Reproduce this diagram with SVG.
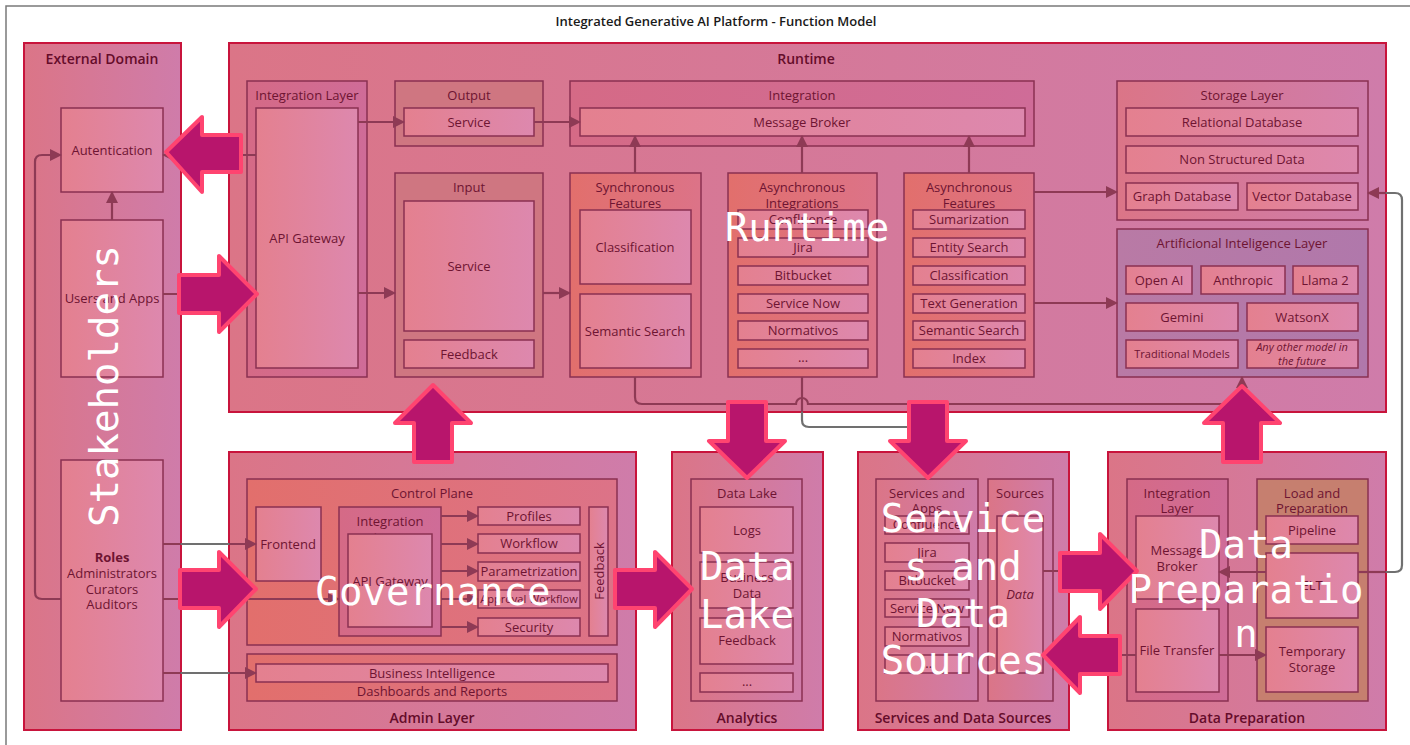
<svg xmlns="http://www.w3.org/2000/svg" width="1410" height="745" viewBox="0 0 1410 745">
  <defs>
    <linearGradient id="gCont" x1="0" x2="1" y1="0" y2="0">
      <stop offset="0" stop-color="#db7587"/>
      <stop offset="1" stop-color="#cf7caa"/>
    </linearGradient>
    <linearGradient id="gItem" x1="0" x2="1" y1="0" y2="0">
      <stop offset="0" stop-color="#e4808f"/>
      <stop offset="1" stop-color="#dd88ae"/>
    </linearGradient>
    <linearGradient id="gSalmon" x1="0" x2="1" y1="0" y2="0">
      <stop offset="0" stop-color="#e26f6c"/>
      <stop offset="1" stop-color="#dc7388"/>
    </linearGradient>
    <linearGradient id="gLayer" x1="0" x2="1" y1="0" y2="0">
      <stop offset="0" stop-color="#d56a86"/>
      <stop offset="1" stop-color="#cf6c98"/>
    </linearGradient>
    <linearGradient id="gAI" x1="0" x2="1" y1="0" y2="0">
      <stop offset="0" stop-color="#b97aa5"/>
      <stop offset="1" stop-color="#b078ab"/>
    </linearGradient>
    <marker id="ah" viewBox="0 0 12 12" markerUnits="userSpaceOnUse" markerWidth="12" markerHeight="12" refX="11" refY="6" orient="auto">
      <path d="M0,0 L12,6 L0,12 z" fill="#8e3a55"/>
    </marker>
    <marker id="ahg" viewBox="0 0 12 12" markerUnits="userSpaceOnUse" markerWidth="12" markerHeight="12" refX="11" refY="6" orient="auto">
      <path d="M0,0 L12,6 L0,12 z" fill="#707070"/>
    </marker>
    <style>
      .cont { fill: url(#gCont); stroke: #c8143c; stroke-width: 2; }
      .sub { stroke: #8a3152; stroke-width: 1.5; }
      .plain { fill: url(#gCont); }
      .layer { fill: url(#gLayer); }
      .io { fill: #cf7681; }
      .salmon { fill: url(#gSalmon); }
      .ai { fill: url(#gAI); }
      .brown { fill: #c67f6f; }
      .item { fill: url(#gItem); stroke: #8a3152; stroke-width: 1.5; }
      text { font-family: "Open Sans", "Noto Sans", sans-serif; font-size: 13px; fill: #6e1432; text-anchor: middle; }
      .h { font-size: 14px; font-weight: 600; fill: #650c2a; }
      .sm { font-size: 11px; }
      .it { font-style: italic; }
      .b { font-weight: 700; }
      .ln { fill: none; stroke: #8e3a55; stroke-width: 2.2; }
      .lg { fill: none; stroke: #707070; stroke-width: 2.2; }
      .big { fill: #b8156c; stroke: #ff4470; stroke-width: 4; stroke-linejoin: round; }
      .ov { font-family: "DejaVu Sans Mono", "Liberation Mono", monospace; font-size: 39px; fill: #ffffff; }
    </style>
  </defs>

  <!-- page frame and title -->
  <rect x="6" y="6" width="1420" height="760" fill="#ffffff" stroke="#7a7a7a" stroke-width="1.5"/>
  <text x="716" y="26" style="font-weight:600;fill:#1a1a1a">Integrated Generative AI Platform - Function Model</text>

  <!-- External Domain -->
  <g id="external-domain">
    <rect class="cont" x="24" y="43" width="157" height="687"/>
    <text class="h" x="102" y="64">External Domain</text>
  </g>
  <g id="autentication">
    <rect class="item" x="61" y="108" width="102" height="84"/>
    <text x="112" y="155">Autentication</text>
  </g>
  <g id="users-and-apps">
    <rect class="item" x="61" y="220" width="102" height="157"/>
    <text x="112" y="303">Users and Apps</text>
  </g>
  <g id="roles">
    <rect class="item" x="61" y="460" width="102" height="241"/>
    <text class="b" x="112" y="562">Roles</text>
    <text x="112" y="578">Administrators</text>
    <text x="112" y="594">Curators</text>
    <text x="112" y="609">Auditors</text>
  </g>

  <!-- Runtime -->
  <g id="runtime">
    <rect class="cont" x="229" y="43" width="1157" height="369"/>
    <text class="h" x="806" y="64">Runtime</text>
  </g>
  <g id="runtime-integration-layer">
    <rect class="sub layer" x="247" y="81" width="120" height="296"/>
    <text x="307" y="100">Integration Layer</text>
    <rect class="item" x="256" y="108" width="102" height="260"/>
    <text x="307" y="243">API Gateway</text>
  </g>
  <g id="output">
    <rect class="sub io" x="395" y="81" width="148" height="65"/>
    <text x="469" y="100">Output</text>
    <rect class="item" x="404" y="108" width="130" height="28"/>
    <text x="469" y="127">Service</text>
  </g>
  <g id="integration">
    <rect class="sub layer" x="570" y="81" width="464" height="65"/>
    <text x="802" y="100">Integration</text>
    <rect class="item" x="580" y="108" width="445" height="28"/>
    <text x="802" y="127">Message Broker</text>
  </g>
  <g id="input">
    <rect class="sub io" x="395" y="173" width="148" height="204"/>
    <text x="469" y="192">Input</text>
    <rect class="item" x="404" y="201" width="130" height="130"/>
    <text x="469" y="271">Service</text>
    <rect class="item" x="404" y="340" width="130" height="28"/>
    <text x="469" y="359">Feedback</text>
  </g>
  <g id="synchronous-features">
    <rect class="sub salmon" x="570" y="173" width="131" height="204"/>
    <text x="635" y="192">Synchronous</text>
    <text x="635" y="208">Features</text>
    <rect class="item" x="580" y="210" width="111" height="74"/>
    <text x="635" y="252">Classification</text>
    <rect class="item" x="580" y="294" width="111" height="74"/>
    <text x="635" y="336">Semantic Search</text>
  </g>
  <g id="asynchronous-integrations">
    <rect class="sub salmon" x="728" y="173" width="149" height="204"/>
    <text x="802" y="192">Asynchronous</text>
    <text x="802" y="208">Integrations</text>
    <rect class="item" x="738" y="210" width="130" height="19"/>
    <text x="803" y="224">Confluence</text>
    <rect class="item" x="738" y="238" width="130" height="19"/>
    <text x="803" y="252">Jira</text>
    <rect class="item" x="738" y="266" width="130" height="19"/>
    <text x="803" y="280">Bitbucket</text>
    <rect class="item" x="738" y="294" width="130" height="19"/>
    <text x="803" y="308">Service Now</text>
    <rect class="item" x="738" y="321" width="130" height="19"/>
    <text x="803" y="335">Normativos</text>
    <rect class="item" x="738" y="349" width="130" height="19"/>
    <text x="803" y="362">...</text>
  </g>
  <g id="asynchronous-features">
    <rect class="sub salmon" x="904" y="173" width="130" height="204"/>
    <text x="969" y="192">Asynchronous</text>
    <text x="969" y="208">Features</text>
    <rect class="item" x="913" y="210" width="112" height="19"/>
    <text x="969" y="224">Sumarization</text>
    <rect class="item" x="913" y="238" width="112" height="19"/>
    <text x="969" y="252">Entity Search</text>
    <rect class="item" x="913" y="266" width="112" height="19"/>
    <text x="969" y="280">Classification</text>
    <rect class="item" x="913" y="294" width="112" height="19"/>
    <text x="969" y="308">Text Generation</text>
    <rect class="item" x="913" y="321" width="112" height="19"/>
    <text x="969" y="335">Semantic Search</text>
    <rect class="item" x="913" y="349" width="112" height="19"/>
    <text x="969" y="363">Index</text>
  </g>
  <g id="storage-layer">
    <rect class="sub plain" x="1117" y="81" width="251" height="139"/>
    <text x="1242" y="100">Storage Layer</text>
    <rect class="item" x="1126" y="108" width="232" height="28"/>
    <text x="1242" y="127">Relational Database</text>
    <rect class="item" x="1126" y="146" width="232" height="27"/>
    <text x="1242" y="164">Non Structured Data</text>
    <rect class="item" x="1126" y="183" width="112" height="27"/>
    <text x="1182" y="201">Graph Database</text>
    <rect class="item" x="1247" y="183" width="111" height="27"/>
    <text x="1302" y="201">Vector Database</text>
  </g>
  <g id="ai-layer">
    <rect class="sub ai" x="1117" y="229" width="251" height="148"/>
    <text x="1242" y="248">Artificional Inteligence Layer</text>
    <rect class="item" x="1126" y="266" width="66" height="28"/>
    <text x="1159" y="285">Open AI</text>
    <rect class="item" x="1201" y="266" width="84" height="28"/>
    <text x="1243" y="285">Anthropic</text>
    <rect class="item" x="1293" y="266" width="65" height="28"/>
    <text x="1325" y="285">Llama 2</text>
    <rect class="item" x="1126" y="303" width="112" height="28"/>
    <text x="1182" y="322">Gemini</text>
    <rect class="item" x="1247" y="303" width="111" height="28"/>
    <text x="1302" y="322">WatsonX</text>
    <rect class="item" x="1126" y="340" width="112" height="28"/>
    <text class="sm" x="1182" y="358">Traditional Models</text>
    <rect class="item" x="1247" y="340" width="111" height="28"/>
    <text class="sm it" x="1302" y="351">Any other model in</text>
    <text class="sm it" x="1302" y="365">the future</text>
  </g>

  <!-- Admin Layer -->
  <g id="admin-layer">
    <rect class="cont" x="229" y="452" width="407" height="278"/>
    <text class="h" x="432" y="723">Admin Layer</text>
  </g>
  <g id="control-plane">
    <rect class="sub salmon" x="247" y="479" width="370" height="166"/>
    <text x="432" y="498">Control Plane</text>
  </g>
  <g id="frontend">
    <rect class="item" x="256" y="507" width="65" height="74"/>
    <text x="288" y="549">Frontend</text>
  </g>
  <g id="admin-integration-layer">
    <rect class="sub layer" x="339" y="507" width="102" height="129"/>
    <text x="390" y="526">Integration</text>
    <text x="390" y="542">Layer</text>
    <rect class="item" x="348" y="534" width="84" height="93"/>
    <text x="390" y="586">API Gateway</text>
  </g>
  <g id="admin-functions">
    <rect class="item" x="478" y="507" width="102" height="18"/>
    <text x="529" y="521">Profiles</text>
    <rect class="item" x="478" y="534" width="102" height="19"/>
    <text x="529" y="548">Workflow</text>
    <rect class="item" x="478" y="562" width="102" height="19"/>
    <text x="529" y="576">Parametrization</text>
    <rect class="item" x="478" y="590" width="102" height="18"/>
    <text class="sm" x="529" y="603">Approval Workflow</text>
    <rect class="item" x="478" y="618" width="102" height="18"/>
    <text x="529" y="632">Security</text>
  </g>
  <g id="admin-feedback">
    <rect class="item" x="589" y="507" width="19" height="129"/>
    <text transform="translate(603.5,571) rotate(-90)">Feedback</text>
  </g>
  <g id="business-intelligence">
    <rect class="sub salmon" x="247" y="654" width="370" height="47"/>
    <rect class="item" x="256" y="664" width="352" height="18"/>
    <text x="432" y="678">Business Intelligence</text>
    <text x="432" y="696">Dashboards and Reports</text>
  </g>

  <!-- Analytics -->
  <g id="analytics">
    <rect class="cont" x="672" y="452" width="151" height="278"/>
    <text class="h" x="747" y="723">Analytics</text>
  </g>
  <g id="data-lake">
    <rect class="sub plain" x="691" y="479" width="111" height="222"/>
    <text x="747" y="498">Data Lake</text>
    <rect class="item" x="700" y="507" width="93" height="46"/>
    <text x="747" y="535">Logs</text>
    <rect class="item" x="700" y="562" width="93" height="46"/>
    <text x="747" y="582">Business</text>
    <text x="747" y="598">Data</text>
    <rect class="item" x="700" y="618" width="93" height="46"/>
    <text x="747" y="645">Feedback</text>
    <rect class="item" x="700" y="673" width="93" height="19"/>
    <text x="747" y="686">...</text>
  </g>

  <!-- Services and Data Sources -->
  <g id="services-and-data-sources">
    <rect class="cont" x="858" y="452" width="211" height="278"/>
    <text class="h" x="963" y="723">Services and Data Sources</text>
  </g>
  <g id="services-and-apps">
    <rect class="sub plain" x="876" y="479" width="102" height="222"/>
    <text x="927" y="498">Services and</text>
    <text x="927" y="513">Apps</text>
    <rect class="item" x="885" y="516" width="84" height="18"/>
    <text x="927" y="529">Confluence</text>
    <rect class="item" x="885" y="543" width="84" height="19"/>
    <text x="927" y="557">Jira</text>
    <rect class="item" x="885" y="571" width="84" height="19"/>
    <text x="927" y="585">Bitbucket</text>
    <rect class="item" x="885" y="599" width="84" height="18"/>
    <text x="927" y="613">Service Now</text>
    <rect class="item" x="885" y="627" width="84" height="19"/>
    <text x="927" y="641">Normativos</text>
    <rect class="item" x="885" y="655" width="84" height="18"/>
    <text x="927" y="668">...</text>
  </g>
  <g id="sources">
    <rect class="sub plain" x="988" y="479" width="65" height="222"/>
    <text x="1020" y="498">Sources</text>
    <rect class="item" x="997" y="516" width="46" height="157"/>
    <text class="it" x="1020" y="599">Data</text>
  </g>

  <!-- Data Preparation -->
  <g id="data-preparation">
    <rect class="cont" x="1108" y="452" width="278" height="278"/>
    <text class="h" x="1247" y="723">Data Preparation</text>
  </g>
  <g id="dp-integration-layer">
    <rect class="sub layer" x="1127" y="479" width="101" height="222"/>
    <text x="1177" y="498">Integration</text>
    <text x="1177" y="513">Layer</text>
    <rect class="item" x="1136" y="516" width="83" height="83"/>
    <text x="1177" y="555">Message</text>
    <text x="1177" y="571">Broker</text>
    <rect class="item" x="1136" y="609" width="83" height="83"/>
    <text x="1177" y="655">File Transfer</text>
  </g>
  <g id="load-and-preparation">
    <rect class="sub brown" x="1257" y="479" width="111" height="222"/>
    <text x="1312" y="498">Load and</text>
    <text x="1312" y="513">Preparation</text>
    <rect class="item" x="1266" y="516" width="92" height="28"/>
    <text x="1312" y="535">Pipeline</text>
    <rect class="item" x="1266" y="553" width="92" height="65"/>
    <text x="1312" y="590">ELT</text>
    <rect class="item" x="1266" y="627" width="92" height="65"/>
    <text x="1312" y="656">Temporary</text>
    <text x="1312" y="672">Storage</text>
  </g>

  <!-- connectors -->
  <g id="connectors">
    <path class="ln" d="M256,155 H163" marker-end="url(#ah)"/>
    <path class="ln" d="M163,294 H256" marker-end="url(#ah)"/>
    <path class="ln" d="M112,220 V192" marker-end="url(#ah)"/>
    <path class="ln" d="M61,599 H42 Q35,599 35,592 V162 Q35,155 42,155 H61" marker-end="url(#ah)"/>
    <path class="ln" d="M163,544 H256" marker-end="url(#ah)"/>
    <path class="ln" d="M163,599 H339" marker-end="url(#ah)"/>
    <path class="ln" d="M163,673 H256" marker-end="url(#ah)"/>
    <path class="lg" d="M181,155 H229 M181,294 H229 M181,544 H229 M181,599 H229 M181,673 H229"/>

    <path class="ln" d="M358,122 H404" marker-end="url(#ah)"/>
    <path class="ln" d="M358,293 H395" marker-end="url(#ah)"/>
    <path class="ln" d="M543,293 H570" marker-end="url(#ah)"/>
    <path class="ln" d="M534,122 H580" marker-end="url(#ah)"/>
    <path class="ln" d="M635,173 V136" marker-end="url(#ah)"/>
    <path class="ln" d="M802,173 V136" marker-end="url(#ah)"/>
    <path class="ln" d="M969,173 V136" marker-end="url(#ah)"/>
    <path class="ln" d="M1034,192 H1117" marker-end="url(#ah)"/>
    <path class="ln" d="M1034,303 H1117" marker-end="url(#ah)"/>

    <path class="ln" d="M802,377 V412"/>
    <path class="lg" d="M802,412 V420 Q802,427 809,427 H921 Q928,427 928,434 V452"/>
    <path class="ln" d="M928,452 V479" marker-end="url(#ah)"/>
    <path class="ln" d="M635,377 V397 Q635,404 642,404 H796 A6,6 0 0 1 808,404 H1235 Q1242,404 1242,397 V377" marker-end="url(#ah)"/>

    <path class="ln" d="M441,516 H478" marker-end="url(#ah)"/>
    <path class="ln" d="M441,544 H478" marker-end="url(#ah)"/>
    <path class="ln" d="M441,571 H478" marker-end="url(#ah)"/>
    <path class="ln" d="M441,599 H478" marker-end="url(#ah)"/>
    <path class="ln" d="M441,627 H478" marker-end="url(#ah)"/>

    <path class="ln" d="M1043,571 H1136" marker-end="url(#ah)"/>
    <path class="ln" d="M1136,655 H1043" marker-end="url(#ah)"/>
    <path class="lg" d="M1069,571 H1108 M1069,655 H1108"/>
    <path class="ln" d="M1266,572 H1219" marker-end="url(#ah)"/>
    <path class="ln" d="M1219,655 H1266" marker-end="url(#ah)"/>
    <path class="ln" d="M1358,572 H1386"/>
    <path class="lg" d="M1386,572 H1395 Q1402,572 1402,565 V200 Q1402,193 1395,193 H1386"/>
    <path class="ln" d="M1386,193 H1368" marker-end="url(#ah)"/>
  </g>

  <!-- block arrows between domains -->
  <g id="flow-arrows">
    <path class="big" d="M166,152 L202,117 L202,135 L241,135 L241,172 L202,172 L202,192 Z"/>
    <path class="big" d="M257,294 L219,256 L219,275 L179,275 L179,313 L219,313 L219,332 Z"/>
    <path class="big" d="M256,589 L219,552 L219,570 L180,570 L180,608 L219,608 L219,627 Z"/>
    <path class="big" d="M433,385 L471,423 L452,423 L452,462 L414,462 L414,423 L395,423 Z"/>
    <path class="big" d="M692,589 L655,552 L655,570 L615,570 L615,608 L655,608 L655,627 Z"/>
    <path class="big" d="M747,478 L709,441 L728,441 L728,402 L766,402 L766,441 L785,441 Z"/>
    <path class="big" d="M928,478 L890,441 L909,441 L909,402 L947,402 L947,441 L966,441 Z"/>
    <path class="big" d="M1137,571 L1100,534 L1100,553 L1060,553 L1060,591 L1100,591 L1100,609 Z"/>
    <path class="big" d="M1043,655 L1080,617 L1080,636 L1120,636 L1120,674 L1080,674 L1080,693 Z"/>
    <path class="big" d="M1242,386 L1280,423 L1261,423 L1261,462 L1223,462 L1223,423 L1204,423 Z"/>
  </g>

  <!-- domain captions -->
  <g id="domain-captions">
    <text class="ov" transform="translate(118,386) rotate(-90)">Stakeholders</text>
    <text class="ov" x="807" y="241">Runtime</text>
    <text class="ov" x="433" y="605">Governance</text>
    <text class="ov" x="747" y="580">Data</text>
    <text class="ov" x="747" y="628">Lake</text>
    <text class="ov" x="963" y="532">Service</text>
    <text class="ov" x="963" y="580">s and</text>
    <text class="ov" x="963" y="627">Data</text>
    <text class="ov" x="963" y="674">Sources</text>
    <text class="ov" x="1246" y="558">Data</text>
    <text class="ov" x="1246" y="603">Preparatio</text>
    <text class="ov" x="1246" y="647">n</text>
  </g>
</svg>
